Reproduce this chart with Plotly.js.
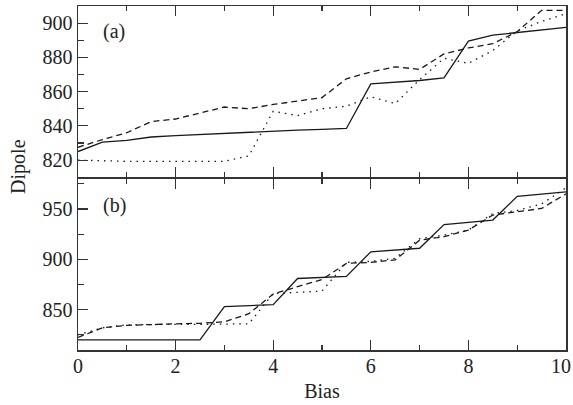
<!DOCTYPE html>
<html>
<head>
<meta charset="utf-8">
<script src="https://cdn.plot.ly/plotly-3.0.1.min.js"></script>
<style>html,body{margin:0;padding:0;background:#fff}#chart{width:573px;height:405px}</style>
</head>
<body>
<div id="chart"></div>
<script>
var bias = [0,0.5,1,1.5,2,2.5,3,3.5,4,4.5,5,5.5,6,6.5,7,7.5,8,8.5,9,9.5,10];

// Panel (a)
var aSolid  = [825,830.5,831.5,833.5,834.3,835,835.7,836.3,837,837.5,838,838.5,864.5,865.5,866.5,868,889.5,893,894.5,896,897.5];
var aDashed = [827.5,832,836,842.5,844,847.5,851,850,852.5,854.5,856.5,867.5,871.5,874.5,873,882,885.5,888,895,907.5,907.5];
var aDotted = [820,819.5,819.3,819.3,819.3,819.3,819.3,822.5,848.5,846,850,851.5,857,853,867,879.5,876.5,884,895.5,901,905.5];

// Panel (b)
var bSolid  = [820,820,820,820,820,820,853,854,855,881,882,883,907.5,909,911,934.5,936.5,939,962.5,965,967];
var bDashed = [822.5,832,834.5,835.5,836,836.5,838,846,865.5,873,880,896,897,899.5,919,922.5,929,944,947,950.5,965];
var bDotted = [825,832,835,835.5,835.5,835.5,835.5,836,866,867,868.5,897,898,901,920.5,924,929,945.5,948.5,955,971];

var xTickVals = [0,2,4,6,8,10];
var xTickLabels = ['0','2','4','6','8','10'];
var panelLabels = ['(a)','(b)'];
var xTitle = 'Bias';
var yTitle = 'Dipole';

var lc = '#1a1a1a';
function tr(y, xa, ya, dash){
  return {x: bias, y: y, xaxis: xa, yaxis: ya, mode: 'lines', type: 'scatter',
    line: {color: lc, width: 1.3, dash: dash}, showlegend: false, hoverinfo: 'skip'};
}
var data = [
  tr(aSolid,'x2','y2','solid'), tr(aDashed,'x2','y2','6px,4px'), tr(aDotted,'x2','y2','1.5px,5px'),
  tr(bSolid,'x','y','solid'), tr(bDashed,'x','y','6px,4px'), tr(bDotted,'x','y','1.5px,5px')
];

var fontFam = '"Liberation Serif", "Times New Roman", serif';
var axcol = '#333';
var tf = {family:fontFam, size:20, color:'#222'};
// last tick label is drawn as an annotation so it can sit flush with the right edge
var shownTickText = xTickLabels.slice(0, -1).concat(['']);
var xBase = {range:[0,10], tickmode:'array', tickvals:xTickVals, ticktext:shownTickText,
  ticks:'inside', ticklen:10, tickwidth:1.2, tickcolor:axcol,
  showline:true, linecolor:axcol, linewidth:1.5, mirror:'ticks', showgrid:false, zeroline:false,
  minor:{dtick:1, tick0:0, ticklen:5, tickwidth:1.2, tickcolor:axcol, ticks:'inside', showgrid:false},
  tickfont:tf};

var gap = 0.0022;
var layout = {
  width:573, height:405,
  margin:{l:78, r:7, t:6, b:55},
  paper_bgcolor:'#fff', plot_bgcolor:'#fff',
  font:tf,
  xaxis: Object.assign({}, xBase, {anchor:'y', domain:[0,1], ticklabelstandoff:-3,
    title:{text:xTitle, font:tf, standoff:8}}),
  xaxis2: Object.assign({}, xBase, {anchor:'y2', domain:[0,1], matches:'x', showticklabels:false}),
  yaxis: {domain:[0,0.5-gap], range:[810,980], tick0:0, dtick:50, ticks:'inside', ticklen:10, tickwidth:1.2, tickcolor:axcol,
    showline:true, linecolor:axcol, linewidth:1.5, mirror:true, showgrid:false, zeroline:false,
    minor:{dtick:25, tick0:0, ticklen:6, tickwidth:1.2, tickcolor:axcol, ticks:'inside', showgrid:false},
    tickfont:tf},
  yaxis2: {domain:[0.5+gap,1], range:[810,910], tick0:0, dtick:20, ticks:'inside', ticklen:10, tickwidth:1.2, tickcolor:axcol,
    showline:true, linecolor:axcol, linewidth:1.5, mirror:true, showgrid:false, zeroline:false,
    minor:{dtick:10, tick0:0, ticklen:6, tickwidth:1.2, tickcolor:axcol, ticks:'inside', showgrid:false},
    tickfont:tf, anchor:'x2'},
  annotations: [
    {text: panelLabels[0], xref:'paper', yref:'paper', x:0.047, y:0.925, xanchor:'left', yanchor:'middle', showarrow:false, font:tf},
    {text: panelLabels[1], xref:'paper', yref:'paper', x:0.047, y:0.42, xanchor:'left', yanchor:'middle', showarrow:false, font:tf},
    {text: yTitle, xref:'paper', yref:'paper', x:-0.121, y:0.535, xanchor:'center', yanchor:'middle', textangle:-90, showarrow:false, font:tf},
    {text: xTickLabels[xTickLabels.length-1], xref:'x', yref:'paper', x:xTickVals[xTickVals.length-1], y:0, xanchor:'right', yanchor:'top',
      xshift:6, yshift:-4, showarrow:false, font:tf, borderpad:0}
  ]
};
Plotly.newPlot('chart', data, layout, {staticPlot:true, displayModeBar:false});
</script>
</body>
</html>
